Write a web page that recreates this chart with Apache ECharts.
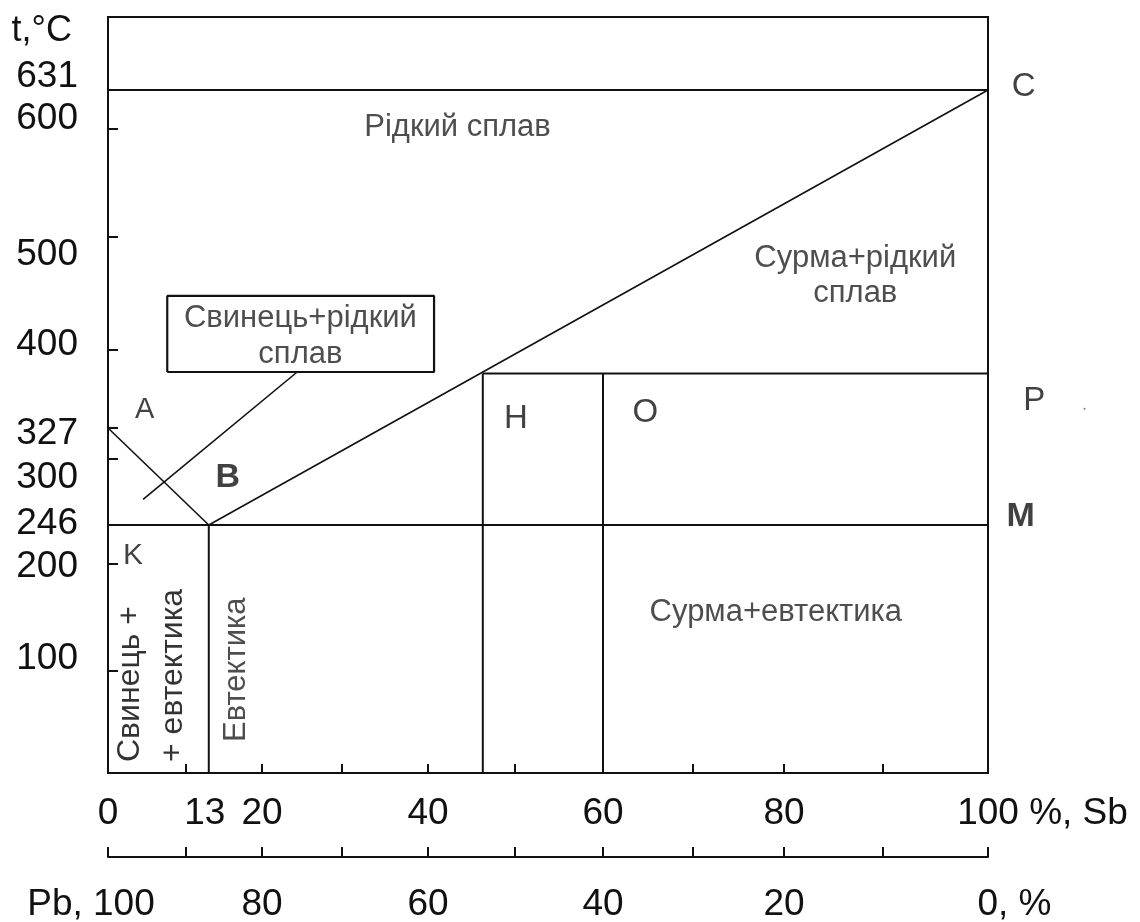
<!DOCTYPE html>
<html><head><meta charset="utf-8">
<script src="https://cdn.jsdelivr.net/npm/echarts@6/dist/echarts.min.js"></script>
<style>html,body{margin:0;padding:0;background:#fff}#c{width:1140px;height:922px}</style>
</head><body><div id="c"></div>
<script>
// Hand-drawn (non-uniform) scale of the original diagram: value -> drawn axis units
const sbScaleTicks = [0, 10, 20, 30, 40, 50, 60, 70, 80, 90, 100];
const sbScaleDrawn = [0, 8.86, 17.50, 26.59, 36.36, 46.25, 56.25, 66.48, 76.82, 88.07, 100];
const tScaleTicks = [0, 100, 200, 246, 300, 327, 400, 500, 600, 631, 700];
const tScaleDrawn = [0, 94.4, 193.5, 229.6, 290.7, 319.4, 391.7, 496.3, 596.3, 632.4, 700];

// Axis ticks and labels
const sbTickValues = [10, 20, 30, 40, 50, 60, 70, 80, 90];
const sbLabelValues = [0, 13, 20, 40, 60, 80, 100];
const pbTickValues = [0, 10, 20, 30, 40, 50, 60, 70, 80, 90, 100];
const pbLabelValues = [0, 20, 40, 60, 80, 100]; // Sb % where Pb % = 100 - Sb
const tTickValues = [100, 200, 300, 327, 400, 500, 600];
const tLabelValues = [100, 200, 246, 300, 327, 400, 500, 600, 631];

// Diagram lines (x: % Sb, y: °C)
const liquidusAB = [[0, 327], [13, 246]];
const liquidusBC = [[13, 246], [100, 631]];
const sbMeltLine = [[0, 631], [100, 631]];
const eutecticLine = [[0, 246], [100, 246]];
const eutecticVert = [[13, 0], [13, 246]];
const alloyH = [[46.3, 0], [46.3, 378]];
const alloyO = [[60, 0], [60, 378]];
const alloyLevel = [[46.3, 378], [100, 378]];
const leaderLine = [[4.5, 267], [24.4, 379.4]];
const calloutBox = [[7.6, 379.4], [40.7, 379.4], [40.7, 447.8], [7.6, 447.8], [7.6, 379.4]];

// Annotations
const regionNames = ['Рідкий сплав', 'Сурма+рідкий\nсплав', 'Свинець+рідкий\nсплав', 'Сурма+евтектика', 'Свинець +\n+ евтектика', 'Евтектика'];
const regionAt = [[43.4, 601], [87.2, 465.5], [24.8, 412.3], [79.1, 155.2], [5.6, 10.8], [16.7, 30.4]];
const pointNames = ['A', 'B', 'C', 'H', 'O', 'P', 'M', 'K'];
const pointAt = [[4.7, 343.9], [15.5, 284.4], [103.4, 633.9], [50.1, 335.5], [64.7, 341], [104.4, 352.2], [103.1, 252.5], [3.2, 209.4]];
const strayDot = [[109.2, 345]];

const FONT = '"Liberation Sans", Arial, sans-serif';
const INK = '#111';

function warp(v, ks, ds) {
  let i = 0;
  if (v >= ks[ks.length - 1]) i = ks.length - 2;
  else if (v > ks[0]) { while (v > ks[i + 1]) i++; }
  const t = (v - ks[i]) / (ks[i + 1] - ks[i]);
  return ds[i] + t * (ds[i + 1] - ds[i]);
}
const wx = v => warp(v, sbScaleTicks, sbScaleDrawn);
const wy = v => warp(v, tScaleTicks, tScaleDrawn);
const nearest = (v, list, f) => list.reduce((b, t) => Math.abs(f(t) - v) < Math.abs(f(b) - v) ? t : b, list[0]);

const lineSeries = (data, w) => ({
  type: 'line', data: data.map(p => [wx(p[0]), wy(p[1])]),
  symbol: 'none', showSymbol: false, silent: true, clip: false,
  lineStyle: { color: INK, width: w }, z: 3
});

// label styling (kept apart from the data)
const regionStyle = [
  { fontSize: 31 },
  { fontSize: 31, lineHeight: 35 },
  { fontSize: 31, lineHeight: 36 },
  { fontSize: 31 },
  { fontSize: 32, lineHeight: 43, rotate: 90, align: 'left', color: '#000' },
  { fontSize: 31, rotate: 90, align: 'left' }
];
const pointStyle = [
  { fontSize: 29 }, { fontSize: 34, fontWeight: 'bold' }, { fontSize: 33 }, { fontSize: 33 },
  { fontSize: 33 }, { fontSize: 33 }, { fontSize: 34, fontWeight: 'bold' }, { fontSize: 30 }
];
const tLabelNudge = { 631: -13, 600: -10, 500: 18, 400: -5, 327: 6, 300: 19, 246: -1, 200: 3, 100: -12 };

const yRich = {};
tLabelValues.forEach(v => {
  const d = tLabelNudge[v] || 0;
  yRich['t' + v] = { fontSize: 37, color: INK, fontFamily: FONT, padding: d < 0 ? [0, 0, -2 * d, 0] : [2 * d, 0, 0, 0] };
});

const labelRich = {
  n: { fontSize: 37, color: INK, fontFamily: FONT },
  u: { fontSize: 37, color: INK, fontFamily: FONT },
  sp109: { width: 109 }, sp34: { width: 34 }, sp53: { width: 53 }
};

const chart = echarts.init(document.getElementById('c'), null, { renderer: 'canvas' });
chart.setOption({
  animation: false,
  backgroundColor: '#fff',
  textStyle: { fontFamily: FONT },
  grid: { left: 108, right: 152, top: 17, bottom: 149, show: true, borderColor: INK, borderWidth: 2, containLabel: false, outerBoundsMode: 'none' },
  xAxis: [{
    type: 'value', min: 0, max: 100, position: 'bottom',
    axisLine: { show: true, onZero: false, lineStyle: { color: INK, width: 2 } },
    axisTick: { show: true, inside: true, length: 9, customValues: sbTickValues.map(wx), lineStyle: { color: INK, width: 2 } },
    axisLabel: {
      show: true, margin: 22, customValues: sbLabelValues.map(wx), hideOverlap: false,
      formatter: v => {
        const t = nearest(v, sbLabelValues, wx);
        if (t === 100) return '{sp109| }{n|100}{u| %, Sb}';
        if (t === 13) return '{n|13}{sp8| }';
        return '{n|' + t + '}';
      },
      rich: Object.assign({ sp8: { width: 8 } }, labelRich)
    },
    splitLine: { show: false }
  }, {
    type: 'value', min: 0, max: 100, position: 'bottom', offset: 84,
    axisLine: { show: true, onZero: false, lineStyle: { color: INK, width: 2 } },
    axisTick: { show: true, inside: true, length: 10, customValues: pbTickValues.map(wx), lineStyle: { color: INK, width: 2 } },
    axisLabel: {
      show: true, margin: 29, customValues: pbLabelValues.map(wx), hideOverlap: false,
      formatter: v => {
        const t = nearest(v, pbLabelValues, wx);
        const pb = 100 - t;
        if (t === 0) return '{u|Pb, }{n|' + pb + '}{sp34| }';
        if (t === 100) return '{sp53| }{n|' + pb + '}{u|, %}';
        return '{n|' + pb + '}';
      },
      rich: labelRich
    },
    splitLine: { show: false }
  }],
  yAxis: {
    type: 'value', min: 0, max: 700,
    name: 't,°C', nameLocation: 'end', nameGap: -14, nameMoveOverlap: false,
    nameTextStyle: { fontSize: 36, color: INK, fontFamily: FONT, align: 'right', verticalAlign: 'middle', padding: [0, 36, 0, 0] },
    axisLine: { show: true, lineStyle: { color: INK, width: 2 } },
    axisTick: { show: true, inside: true, length: 10, customValues: tTickValues.map(wy), lineStyle: { color: INK, width: 2 } },
    axisLabel: {
      show: true, margin: 30, customValues: tLabelValues.map(wy), hideOverlap: false,
      formatter: v => { const t = nearest(v, tLabelValues, wy); return '{t' + t + '|' + t + '}'; },
      rich: yRich
    },
    splitLine: { show: false }
  },
  series: [
    lineSeries(sbMeltLine, 2),
    lineSeries(eutecticLine, 2),
    lineSeries(liquidusAB, 1.6),
    lineSeries(liquidusBC, 1.6),
    lineSeries(eutecticVert, 2),
    lineSeries(alloyH, 2),
    lineSeries(alloyO, 2),
    lineSeries(alloyLevel, 2),
    lineSeries(leaderLine, 1.6),
    lineSeries(calloutBox, 2.2),
    {
      type: 'scatter', symbolSize: 0, clip: false, silent: true, z: 5,
      label: { show: true, position: 'inside', formatter: p => p.name, color: '#222', fontFamily: FONT, align: 'center', verticalAlign: 'middle' },
      data: regionNames.map((n, i) => ({ name: n, value: [wx(regionAt[i][0]), wy(regionAt[i][1])], label: regionStyle[i] }))
    },
    {
      type: 'scatter', symbolSize: 0, clip: false, silent: true, z: 5,
      label: { show: true, position: 'inside', formatter: p => p.name, color: INK, fontFamily: FONT, align: 'center', verticalAlign: 'middle' },
      data: pointNames.map((n, i) => ({ name: n, value: [wx(pointAt[i][0]), wy(pointAt[i][1])], label: pointStyle[i] }))
    },
    {
      type: 'scatter', symbol: 'circle', symbolSize: 2, clip: false, silent: true,
      itemStyle: { color: '#555' },
      data: strayDot.map(p => [wx(p[0]), wy(p[1])])
    }
  ]
});
</script></body></html>
